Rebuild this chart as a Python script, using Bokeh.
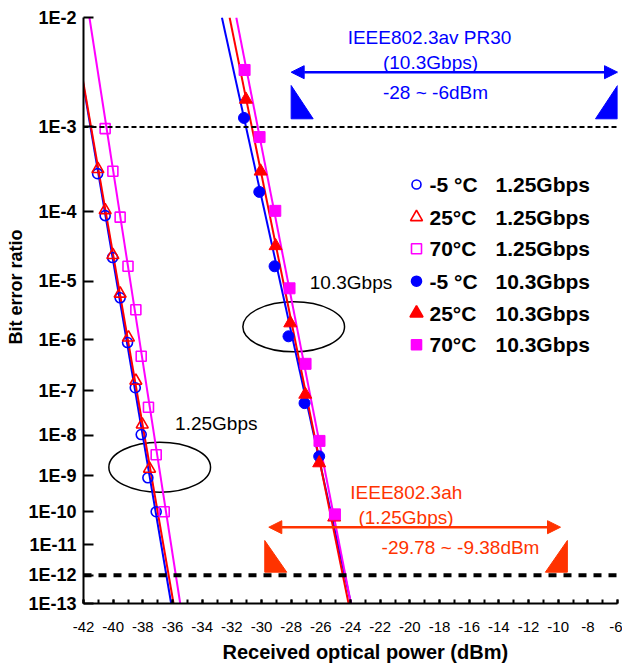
import numpy as np
from math import pi
from bokeh.plotting import figure
from bokeh.models import (Range1d, FixedTicker, CustomJSTickFormatter, SingleIntervalTicker,
                          Label, Arrow, NormalHead, Span, Title)
from bokeh.embed import file_html
from bokeh.resources import INLINE

# ---------------- data (received power in dBm, bit error ratio) ----------------
p125_m5 = [-41.05, -40.54, -40.04, -39.53, -39.03, -38.51, -38.11, -37.66, -37.10]
ber125_m5 = [3.0e-4, 8.9e-5, 2.3e-5, 5.4e-6, 8.9e-7, 1.15e-7, 1.05e-8, 8.7e-10, 1.0e-10]

p125_25 = [-41.03, -40.54, -40.02, -39.53, -38.97, -38.47, -38.04, -37.55]
ber125_25 = [3.4e-4, 1.05e-4, 2.5e-5, 6.3e-6, 1.1e-6, 1.6e-7, 1.8e-8, 1.5e-9]

p125_70 = [-40.54, -40.02, -39.53, -39.00, -38.47, -38.11, -37.62, -37.10, -36.56]
ber125_70 = [9.6e-4, 3.2e-4, 8.5e-5, 1.7e-5, 3.4e-6, 4.9e-7, 4.4e-8, 3.4e-9, 1.0e-10]

p103_m5 = [-31.18, -30.15, -29.12, -28.18, -27.10, -26.11]
ber103_m5 = [1.24e-3, 1.8e-4, 1.7e-5, 1.16e-6, 5.4e-8, 3.1e-9]

p103_25 = [-31.05, -30.06, -29.05, -28.06, -27.05, -26.11, -25.10]
ber103_25 = [1.9e-3, 3.2e-4, 3.4e-5, 2.0e-6, 8.3e-8, 2.1e-9, 6.9e-11]

p103_70 = [-31.14, -30.13, -29.07, -28.11, -27.03, -26.09, -25.05]
ber103_70 = [3.6e-3, 7.8e-4, 1.03e-4, 7.7e-6, 3.5e-7, 7.4e-9, 8.4e-11]

# fitted lines: power at BER = 1E-2 and at BER = 1E-13
fit_ber = [1e-2, 1e-13]
fit125_m5 = [-42.78, -36.09]
fit125_25 = [-42.77, -35.93]
fit125_70 = [-41.60, -35.48]
fit103_m5 = [-32.67, -23.97]
fit103_25 = [-32.15, -24.13]
fit103_70 = [-31.70, -23.97]

# spec ranges and BER thresholds
pr30_range = [-28, -6]
pr30_ber = 1e-3
ah_range = [-29.78, -9.38]
ah_ber = 1e-12

ytick_exp = [2, 3, 4, 5, 6, 7, 8, 9, 10, 11, 12, 13]
ytick_labels = ["1E-2", "1E-3", "1E-4", "1E-5", "1E-6", "1E-7", "1E-8",
                "1E-9", "1E-10", "1E-11", "1E-12", "1E-13"]

legend_temps = ["-5 °C", "25°C", "70°C", "-5 °C", "25°C", "70°C"]
legend_rates = ["1.25Gbps", "1.25Gbps", "1.25Gbps", "10.3Gbps", "10.3Gbps", "10.3Gbps"]

# ---------------- BER axis transform ----------------
C = 1.0
def t(ber):
    ber = np.asarray(ber, dtype=float)
    return -np.log10(-np.log10(ber) + C)

BLUE, RED, MAG, ORG = "#0000FF", "#FF0000", "#FF00FF", "#FF3300"
FONT = "Liberation Sans"

W, H = 622, 670
FL, FR, FT, FB = 83, 617, 17, 603
X0, X1 = -42, -6
Y_TOP, Y_BOT = float(t(1e-2)), float(t(1e-13))
EPS = 1e-9

def sx(px):
    return X0 + (px - FL) * (X1 - X0) / (FR - FL)

def sy(py):
    return Y_TOP + (py - FT) * (Y_BOT - Y_TOP) / (FB - FT)

p = figure(width=W, height=H, output_backend="svg", toolbar_location=None,
           x_range=Range1d(X0, X1), y_range=Range1d(Y_BOT - EPS, Y_TOP + EPS),
           min_border_left=FL, min_border_right=W - FR,
           min_border_top=FT, min_border_bottom=H - FB)
p.outline_line_color = None
p.grid.visible = False
p.background_fill_color = "white"
p.border_fill_color = "white"

# axes
xa = p.xaxis[0]
xa.ticker = SingleIntervalTicker(interval=2, num_minor_ticks=2)
xa.formatter = CustomJSTickFormatter(code="return tick.toFixed(0);")
xa.axis_line_width = 2
xa.major_tick_line_width = 2
xa.minor_tick_line_width = 2
xa.major_tick_in = 4
xa.major_tick_out = 0
xa.minor_tick_in = 4
xa.minor_tick_out = 0
xa.major_label_standoff = 18
xa.major_label_text_font = FONT
xa.major_label_text_font_size = "15px"
xa.major_label_text_color = "black"

ya = p.yaxis[0]
ytick_vals = [float(t(10.0 ** -k)) for k in ytick_exp]
ya.ticker = FixedTicker(ticks=ytick_vals, minor_ticks=[])
ya.formatter = CustomJSTickFormatter(args=dict(vals=ytick_vals, labels=ytick_labels), code="""
    for (let i = 0; i < vals.length; i++) {
        if (Math.abs(vals[i] - tick) < 1e-6) { return labels[i]; }
    }
    return '';
""")
ya.axis_line_width = 2
ya.major_tick_line_width = 2
ya.major_tick_in = 10
ya.major_tick_out = 0
ya.minor_tick_in = 0
ya.minor_tick_out = 0
ya.major_label_standoff = 7
ya.major_label_text_font = FONT
ya.major_label_text_font_style = "bold"
ya.major_label_text_font_size = "18px"
ya.major_label_text_color = "black"

# axis titles as side titles (offset along the frame)
p.add_layout(Title(text="Received optical power (dBm)", align="left", offset=139,
                   text_font=FONT, text_font_size="20px", text_font_style="bold",
                   text_color="black", standoff=8), "below")
p.add_layout(Title(text="Bit error ratio", align="left", offset=259,
                   text_font=FONT, text_font_size="18px", text_font_style="bold",
                   text_color="black", standoff=0), "left")

# threshold lines
p.add_layout(Span(location=float(t(pr30_ber)), dimension="width", line_color="black",
                  line_width=2, line_dash="5 3"))
p.add_layout(Span(location=float(t(ah_ber)), dimension="width", line_color="black",
                  line_width=4, line_dash="8 7"))

# ellipses
ew = 101.7 * (X1 - X0) / (FR - FL)
eh = 50 * (Y_TOP - Y_BOT) / (FB - FT)
p.ellipse(x=[sx(159.2), sx(293.2)], y=[sy(466.7), sy(326.3)], width=ew, height=eh,
          fill_color=None, line_color="black", line_width=1.5)

# fitted lines
for xs, col in [(fit125_m5, BLUE), (fit125_25, RED), (fit125_70, MAG),
                (fit103_m5, BLUE), (fit103_25, RED), (fit103_70, MAG)]:
    p.line(xs, t(fit_ber), line_color=col, line_width=2)

# markers
p.scatter(p125_m5, t(ber125_m5), marker="circle", size=10, fill_color=None, line_color=BLUE, line_width=1.6)
p.scatter(p125_25, t(ber125_25), marker="triangle", size=12, fill_color=None, line_color=RED, line_width=1.6)
p.scatter(p125_70, t(ber125_70), marker="square", size=10, fill_color=None, line_color=MAG, line_width=1.6)
p.scatter(p103_m5, t(ber103_m5), marker="circle", size=11, fill_color=BLUE, line_color=BLUE)
p.scatter(p103_25, t(ber103_25), marker="triangle", size=13, fill_color=RED, line_color=RED)
p.scatter(p103_70, t(ber103_70), marker="square", size=11, fill_color=MAG, line_color=MAG)

# legend (drawn manually)
rows_py = [184, 216.7, 248.3, 280.7, 312.7, 344.3]
leg_styles = [("circle", 9, None, BLUE), ("triangle", 12, None, RED), ("square", 10, None, MAG),
              ("circle", 10, BLUE, BLUE), ("triangle", 13, RED, RED), ("square", 10, MAG, MAG)]
for ry, (mk, sz, fc, lc), tt, rt in zip(rows_py, leg_styles, legend_temps, legend_rates):
    p.scatter([sx(416)], [sy(ry)], marker=mk, size=sz, fill_color=fc, line_color=lc, line_width=1.6)
    p.add_layout(Label(x=sx(429), y=sy(ry), text=tt, text_font=FONT, text_font_style="bold",
                       text_font_size="21px", text_baseline="middle", text_align="left",
                       text_color="black"))
    p.add_layout(Label(x=sx(495), y=sy(ry), text=rt, text_font=FONT, text_font_style="bold",
                       text_font_size="21px", text_baseline="middle", text_align="left",
                       text_color="black"))

def lab(px, py, text, color="black", size="19px", style="normal", angle=0.0):
    p.add_layout(Label(x=sx(px), y=sy(py), text=text, text_color=color, text_font=FONT,
                       text_font_size=size, text_font_style=style, text_align="center",
                       text_baseline="middle", angle=angle))

# group labels
lab(215.8, 423.3, "1.25Gbps")
lab(350.5, 281.7, "10.3Gbps")

# IEEE802.3av annotation (blue)
lab(429, 36.7, "IEEE802.3av PR30", BLUE)
lab(430, 61.7, "(10.3Gbps)", BLUE)
lab(435, 91.7, "-28 ~ -6dBm", BLUE)
p.add_layout(Arrow(start=NormalHead(size=13, fill_color=BLUE, line_color=BLUE),
                   end=NormalHead(size=13, fill_color=BLUE, line_color=BLUE),
                   x_start=pr30_range[0], x_end=pr30_range[1], y_start=sy(71.7), y_end=sy(71.7),
                   line_color=BLUE, line_width=2.5))
tw = 22 * (X1 - X0) / (FR - FL)
p.patches([[pr30_range[0], pr30_range[0], pr30_range[0] + tw],
           [pr30_range[1], pr30_range[1], pr30_range[1] - tw]],
          [[sy(85), sy(118.3), sy(118.3)], [sy(85), sy(118.3), sy(118.3)]],
          fill_color=BLUE, line_color=BLUE)

# IEEE802.3ah annotation (orange)
lab(405.8, 491.7, "IEEE802.3ah", ORG)
lab(405.5, 516.7, "(1.25Gbps)", ORG)
lab(460, 547.3, "-29.78 ~ -9.38dBm", ORG)
p.add_layout(Arrow(start=NormalHead(size=13, fill_color=ORG, line_color=ORG),
                   end=NormalHead(size=13, fill_color=ORG, line_color=ORG),
                   x_start=sx(268.3), x_end=sx(560), y_start=sy(526.7), y_end=sy(526.7),
                   line_color=ORG, line_width=2.5))
p.patches([[ah_range[0], ah_range[0], ah_range[0] + tw],
           [ah_range[1], ah_range[1], ah_range[1] - tw]],
          [[sy(540), sy(571.7), sy(571.7)], [sy(540), sy(571.7), sy(571.7)]],
          fill_color=ORG, line_color=ORG)

open("out.html", "w").write(file_html(p, INLINE))
